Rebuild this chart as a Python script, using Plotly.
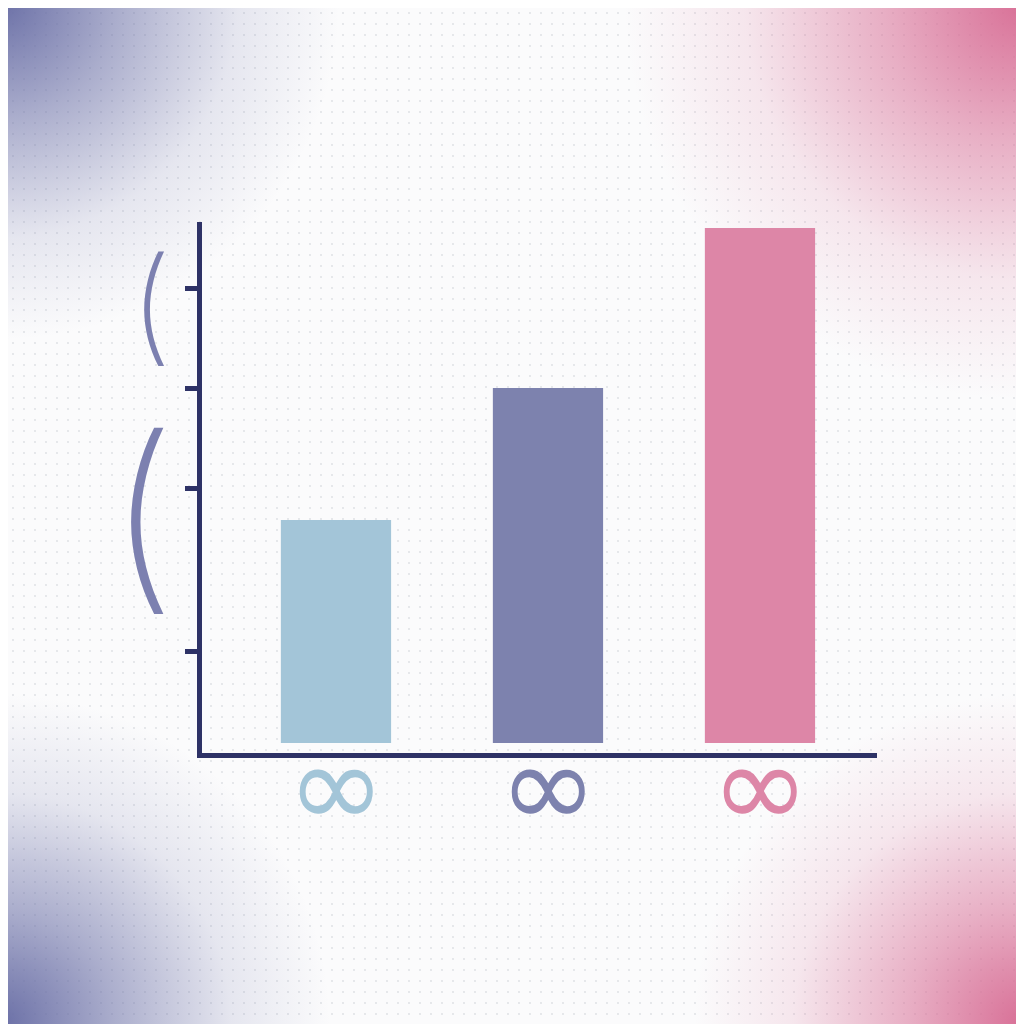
import base64
import plotly.graph_objects as go

# chart data
categories = ["A", "B", "C"]
bar_tops = [2.33, 3.65, 5.25]
bar_base = 0.1
bar_colors = ["#a3c5d8", "#7d82ae", "#dd86a7"]
tick_labels = ["∞", "∞", "∞"]
y_tickvals = [1.02, 2.65, 3.65, 4.65]
y_glyphs = ["(", "("]
y_glyph_pos = [4.5, 2.42]
y_glyph_size = [126, 205]

axis_color = "#2e3266"

# page has an 8px body margin, so pull the plot up/left by that much
OFF = 8
L, R, T, B = 202 - OFF, 147 + OFF, 222 - OFF, 271 + OFF
pw = 1024 - L - R
ph = 1024 - T - B


def glow(name, cx, cy, r, color, a):
    return (f"<radialGradient id='{name}' gradientUnits='userSpaceOnUse' cx='{cx}' cy='{cy}' r='{r}'>"
            f"<stop offset='0' stop-color='{color}' stop-opacity='{a}'/>"
            f"<stop offset='0.35' stop-color='{color}' stop-opacity='{a * 0.55}'/>"
            f"<stop offset='0.7' stop-color='{color}' stop-opacity='{a * 0.15}'/>"
            f"<stop offset='1' stop-color='{color}' stop-opacity='0'/></radialGradient>")


# soft corner glow + dot grid background, in window pixels
svg = ("<svg xmlns='http://www.w3.org/2000/svg' width='1024' height='1024'><defs>"
       + glow("tl", -OFF, -OFF, 340, "#6a6fa6", 1.0)
       + glow("bl", -OFF, 1024 - OFF, 330, "#6a6fa6", 1.0)
       + glow("tr", 1024 - OFF, -OFF, 400, "#d86f96", 1.0)
       + glow("br", 1024 - OFF, 1024 - OFF, 330, "#d86f96", 1.0)
       + "<pattern id='dots' width='11' height='11' patternUnits='userSpaceOnUse'>"
         "<circle cx='5' cy='5' r='0.9' fill='#dcdee3'/></pattern></defs>"
         "<rect width='1024' height='1024' fill='#fbfbfc'/>"
         "<rect width='1024' height='1024' fill='url(#dots)'/>"
         "<rect width='1024' height='1024' fill='url(#tl)'/>"
         "<rect width='1024' height='1024' fill='url(#bl)'/>"
         "<rect width='1024' height='1024' fill='url(#tr)'/>"
         "<rect width='1024' height='1024' fill='url(#br)'/></svg>")
bg_src = "data:image/svg+xml;base64," + base64.b64encode(svg.encode()).decode()

fig = go.Figure()
fig.add_trace(go.Bar(
    x=list(range(len(categories))),
    y=[t - bar_base for t in bar_tops],
    base=bar_base,
    width=0.52,
    marker=dict(color=bar_colors, line=dict(width=0)),
))

fig.update_layout(
    width=1024, height=1024,
    margin=dict(l=L, r=R, t=T, b=B),
    paper_bgcolor="white",
    plot_bgcolor="rgba(0,0,0,0)",
    showlegend=False,
    images=[dict(
        source=bg_src, xref="paper", yref="paper",
        x=-L / pw, y=1 + T / ph, sizex=1024 / pw, sizey=1024 / ph,
        xanchor="left", yanchor="top", sizing="stretch", layer="below",
    )],
)

fig.update_xaxes(
    range=[-0.632, 2.552],
    showgrid=False, zeroline=False,
    showline=True, linecolor=axis_color, linewidth=5,
    showticklabels=False, ticks="",
)
fig.update_yaxes(
    range=[0, 5.31],
    showgrid=False, zeroline=False,
    showline=True, linecolor=axis_color, linewidth=5,
    tickvals=y_tickvals, ticks="outside", ticklen=12, tickwidth=5,
    tickcolor=axis_color, showticklabels=False,
)

# category labels
for i, (t, c) in enumerate(zip(tick_labels, bar_colors)):
    fig.add_annotation(
        text=t, x=i, xref="x", yref="paper", y=-33 / ph, yanchor="middle",
        showarrow=False, font=dict(size=118, color=c, family="DejaVu Sans"),
    )

# axis title scribbles, stacked down the left side
glyph_x = [-0.110, -0.142]
for g, yv, s, gx in zip(y_glyphs, y_glyph_pos, y_glyph_size, glyph_x):
    fig.add_annotation(
        text=g, xref="paper", yref="y", x=gx, y=yv, yanchor="middle",
        showarrow=False, font=dict(size=s, color="#7c80b0", family="Inter", weight=200),
    )

fig.write_html("out.html")
